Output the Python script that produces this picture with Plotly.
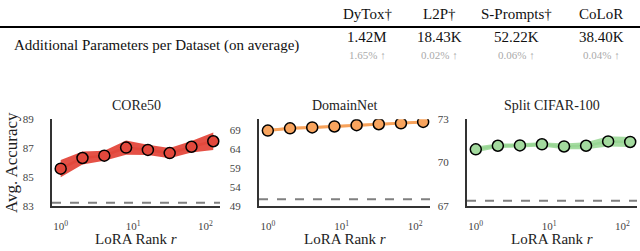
import plotly.graph_objects as go

# ---------------- data ----------------
ranks = [1, 2, 4, 8, 16, 32, 64, 128]

core50_mean = [85.58, 86.32, 86.48, 87.04, 86.88, 86.66, 87.10, 87.48]
core50_std = [0.60, 0.45, 0.35, 0.50, 0.35, 0.35, 0.40, 0.60]
core50_baseline = 83.23

domainnet_mean = [69.0, 69.6, 69.85, 70.1, 70.45, 70.7, 70.95, 71.3]
domainnet_std = [0.4, 0.4, 0.4, 0.4, 0.4, 0.4, 0.4, 0.4]
domainnet_baseline = 50.8

cifar_mean = [70.92, 71.17, 71.19, 71.27, 71.12, 71.17, 71.47, 71.43]
cifar_std = [0.20, 0.15, 0.15, 0.15, 0.20, 0.25, 0.35, 0.35]
cifar_baseline = 67.36

panel_titles = ["CORe50", "DomainNet", "Split CIFAR-100"]
panel_yticks = [[83, 85, 87, 89], [49, 54, 59, 64, 69], [67, 70, 73]]
panel_yranges = [[83, 89], [49, 72], [67, 73]]

methods = ["DyTox†", "L2P†", "S-Prompts†", "CoLoR"]
params = ["1.42M", "18.43K", "52.22K", "38.40K"]
percents = ["1.65% ↑", "0.02% ↑", "0.06% ↑", "0.04% ↑"]
row_label = "Additional Parameters per Dataset (on average)"

xtick_vals = [1, 10, 100]
xtick_text = ["10<sup>0</sup>", "10<sup>1</sup>", "10<sup>2</sup>"]

# ---------------- style ----------------
W, H = 640, 251
FONT = "Liberation Serif"
band_colors = ["rgba(226,62,50,0.9)", "rgba(247,160,90,0.9)", "rgba(150,214,146,0.85)"]
marker_colors = ["#E2483C", "#F8A45E", "#A3DA9E"]
line_colors = ["#E2483C", "#F7A25A", "#98D694"]

x_domains = [[52 / W, 220 / W], [259 / W, 430 / W], [467 / W, 637 / W]]
y_domain = [1 - 210 / H, 1 - 119 / H]

fig = go.Figure()

series = [
    (core50_mean, core50_std, core50_baseline),
    (domainnet_mean, domainnet_std, domainnet_baseline),
    (cifar_mean, cifar_std, cifar_baseline),
]

for i, (mean, std, base) in enumerate(series):
    xa = "x" if i == 0 else f"x{i+1}"
    ya = "y" if i == 0 else f"y{i+1}"
    upper = [m + s for m, s in zip(mean, std)]
    lower = [m - s for m, s in zip(mean, std)]
    fig.add_trace(go.Scatter(x=ranks, y=upper, mode="lines", line=dict(width=0),
                             xaxis=xa, yaxis=ya, showlegend=False, hoverinfo="skip"))
    fig.add_trace(go.Scatter(x=ranks, y=lower, mode="lines", line=dict(width=0),
                             fill="tonexty", fillcolor=band_colors[i],
                             xaxis=xa, yaxis=ya, showlegend=False, hoverinfo="skip"))
    fig.add_trace(go.Scatter(x=ranks, y=mean, mode="lines+markers",
                             line=dict(color=line_colors[i], width=2.5),
                             marker=dict(size=11, color=marker_colors[i],
                                         line=dict(color="black", width=1.5)),
                             xaxis=xa, yaxis=ya, showlegend=False))
    # baseline dashed line
    fig.add_shape(type="line", xref=f"{xa} domain", yref=ya, x0=0, x1=1, y0=base, y1=base,
                  line=dict(color="#808080", width=2, dash="dash"))

    axis_x = dict(domain=x_domains[i], type="log", range=[-0.12, 2.2],
                  tickvals=xtick_vals, ticktext=xtick_text,
                  showline=True, linecolor="#333333", linewidth=2,
                  showgrid=False, zeroline=False,
                  ticks="outside", ticklen=9, tickcolor="rgba(0,0,0,0)",
                  tickfont=dict(family=FONT, size=11, color="#444444"),
                  anchor=ya)
    axis_y = dict(domain=y_domain, range=panel_yranges[i], tickvals=panel_yticks[i],
                  showline=True, linecolor="#333333", linewidth=2,
                  showgrid=False, zeroline=False,
                  ticks="outside", ticklen=14, tickcolor="rgba(0,0,0,0)",
                  tickfont=dict(family=FONT, size=11, color="#444444"),
                  anchor=xa)
    key = "" if i == 0 else str(i + 1)
    fig.update_layout(**{f"xaxis{key}": axis_x, f"yaxis{key}": axis_y})

    cx = (x_domains[i][0] + x_domains[i][1]) / 2
    fig.add_annotation(text=panel_titles[i], x=cx, y=1 - 105 / H, xref="paper", yref="paper",
                       showarrow=False, xanchor="center", yanchor="middle",
                       font=dict(family=FONT, size=14, color="#222222"))
    fig.add_annotation(text="LoRA Rank <i>r</i>", x=cx, y=-4 / H, xref="paper", yref="paper",
                       showarrow=False, xanchor="center", yanchor="bottom",
                       font=dict(family=FONT, size=15, color="#222222"))

fig.add_annotation(text="Avg. Accuracy", x=11 / W, y=1 - 165 / H, xref="paper", yref="paper",
                   showarrow=False, textangle=-90, xanchor="center", yanchor="middle",
                   font=dict(family=FONT, size=17, color="#222222"))

# ---------------- table ----------------
col_x = [367, 439, 516, 601]
for cx, m, p, pc in zip(col_x, methods, params, percents):
    fig.add_annotation(text=m, x=cx / W, y=1 - 8 / H, xref="paper", yref="paper",
                       showarrow=False, xanchor="center", yanchor="middle",
                       font=dict(family=FONT, size=15, color="#111111"))
    fig.add_annotation(text=p, x=cx / W, y=1 - 33 / H, xref="paper", yref="paper",
                       showarrow=False, xanchor="center", yanchor="middle",
                       font=dict(family=FONT, size=15, color="#111111"))
    fig.add_annotation(text=pc, x=cx / W, y=1 - 51 / H, xref="paper", yref="paper",
                       showarrow=False, xanchor="center", yanchor="middle",
                       font=dict(family=FONT, size=11, color="#aaaaaa"))

fig.add_annotation(text=row_label, x=12 / W, y=1 - 41 / H, xref="paper", yref="paper",
                   showarrow=False, xanchor="left", yanchor="middle",
                   font=dict(family=FONT, size=15, color="#111111"))
fig.add_shape(type="line", xref="paper", yref="paper", x0=0, x1=1,
              y0=1 - 22 / H, y1=1 - 22 / H, line=dict(color="black", width=2))

fig.update_layout(width=W, height=H, margin=dict(l=0, r=0, t=0, b=0),
                  paper_bgcolor="white", plot_bgcolor="white",
                  font=dict(family=FONT))

fig.write_html("out.html", config={"displayModeBar": False},
               post_script="document.body.style.margin='0';document.body.style.padding='0';")
